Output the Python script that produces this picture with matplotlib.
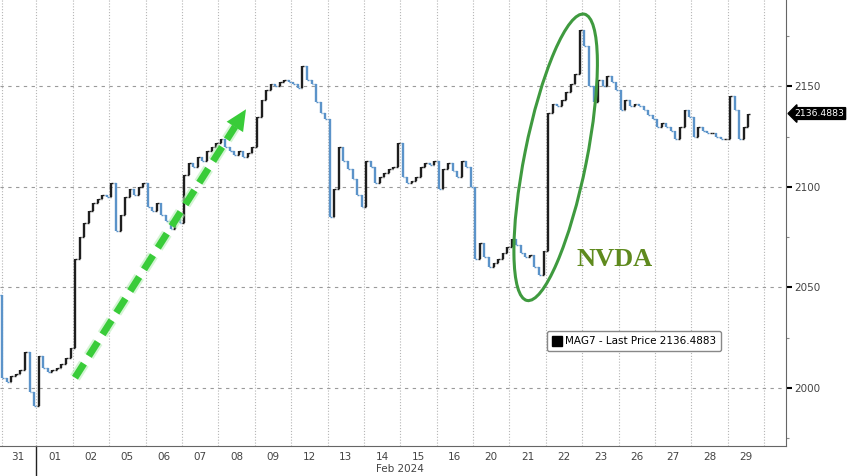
import numpy as np
import matplotlib.pyplot as plt
import matplotlib.patheffects as pe
from matplotlib.patches import Ellipse
from matplotlib.lines import Line2D
from matplotlib.transforms import IdentityTransform, blended_transform_factory

day_labels = ["31", "01", "02", "05", "06", "07", "08", "09", "12", "13", "14",
              "15", "16", "20", "21", "22", "23", "26", "27", "28", "29"]

first_open = 2046.0
# intraday closes, 8 bars per session (last session still open)
closes = [
    [2005, 2003, 2006, 2007, 2009, 2018, 1998, 1991],   # 31
    [2016, 2010, 2008, 2009, 2010, 2012, 2015, 2020],   # 01
    [2064, 2075, 2082, 2088, 2092, 2094, 2096, 2095],   # 02
    [2102, 2078, 2086, 2095, 2099, 2096, 2100, 2102],   # 05
    [2090, 2088, 2092, 2086, 2083, 2079, 2084, 2082],   # 06
    [2106, 2112, 2110, 2115, 2113, 2118, 2120, 2122],   # 07
    [2124, 2120, 2118, 2116, 2118, 2115, 2117, 2120],   # 08
    [2135, 2143, 2148, 2151, 2150, 2152, 2153, 2152],   # 09
    [2151, 2149, 2160, 2153, 2151, 2142, 2137, 2134],   # 12
    [2085, 2099, 2120, 2113, 2109, 2104, 2096, 2090],   # 13
    [2113, 2110, 2102, 2105, 2107, 2109, 2110, 2122],   # 14
    [2105, 2102, 2103, 2105, 2110, 2112, 2111, 2113],   # 15
    [2099, 2109, 2112, 2108, 2105, 2113, 2110, 2100],   # 16
    [2064, 2072, 2065, 2060, 2062, 2064, 2067, 2070],   # 20
    [2074, 2071, 2067, 2065, 2066, 2060, 2056, 2068],   # 21
    [2137, 2141, 2140, 2143, 2147, 2151, 2156, 2178],   # 22
    [2170, 2150, 2142, 2153, 2150, 2155, 2152, 2148],   # 23
    [2138, 2143, 2140, 2141, 2140, 2138, 2136, 2134],   # 26
    [2130, 2132, 2130, 2128, 2124, 2130, 2138, 2135],   # 27
    [2125, 2130, 2128, 2127, 2127, 2125, 2124, 2124],   # 28
    [2145, 2138, 2124, 2130, 2136.4883],                # 29
]
last_price = 2136.4883
bars_per_day = 8

# annotation anchors (day units, price)
arrow_start = (2.06, 2005)
arrow_tip = (6.76, 2138.6)
arrow_neck = (6.46, 2130)
ellipse_center = (15.27, 2114.7)

# ------------------------------------------------ #
xs, cl = [], []
for d, day in enumerate(closes):
    for i, c in enumerate(day):
        xs.append(d + (i + 0.5) / bars_per_day)
        cl.append(c)
xs = np.array(xs)
cl = np.array(cl, dtype=float)
op = np.concatenate([[first_open], cl[:-1]])
up = cl >= op
cols = np.where(up, "#1e1e1e", "#5b93c9")

fig = plt.figure(figsize=(8.48, 4.76), dpi=100)
ax = fig.add_axes([0, 30 / 476, 786 / 848, 446 / 476])
ax.set_xlim(0, 21.6)
ax.set_ylim(1971, 2193)

# grid
for g in range(0, 22):
    ax.axvline(g if g else 0.05, color="#b5b5b5", lw=0.8, ls=(0, (1, 1.6)), zorder=0)
for g in [2000, 2050, 2100, 2150]:
    ax.axhline(g, color="#9a9a9a", lw=0.8, ls=(0, (3, 4)), zorder=0)

# bars
ax.vlines(xs, np.minimum(op, cl), np.maximum(op, cl), colors=cols, lw=1.7, zorder=3)
w = 0.05
ax.hlines(op, xs - w, xs, colors=cols, lw=1.0, zorder=3)
ax.hlines(cl, xs, xs + w, colors=cols, lw=1.0, zorder=3)

# axes styling
for s in ["left", "top"]:
    ax.spines[s].set_visible(False)
ax.spines["right"].set_color("#666666")
ax.spines["bottom"].set_color("#666666")
ax.yaxis.tick_right()
ax.set_yticks([2000, 2050, 2100, 2150])
ax.set_yticks([1975, 2025, 2075, 2125, 2175], minor=True)
ax.tick_params(axis="y", which="major", length=4, width=1.5, color="black",
               labelsize=7.5, labelcolor="#444444", pad=2)
ax.tick_params(axis="y", which="minor", length=2, width=0.8, color="#888888")
ax.set_xticks(np.arange(0, 22))
ax.set_xticklabels([])
ax.set_xticks(np.arange(len(day_labels)) + 0.5, minor=True)
ax.set_xticklabels(day_labels, minor=True)
ax.tick_params(axis="x", which="both", length=0, labelsize=7.5,
               labelcolor="#444444", pad=4)

bt = ax.get_xaxis_transform()
ax.plot([1, 1], [0, -0.07], color="#222222", lw=1, transform=bt, clip_on=False)
ax.text(11, -0.052, "Feb 2024", transform=bt, ha="center", va="center",
        fontsize=7.5, color="#444444")

# last price tag
yt = blended_transform_factory(ax.transAxes, ax.transData)
ax.annotate(f"{last_price:.4f}", xy=(1, last_price), xycoords=yt,
            xytext=(6, 0), textcoords="offset points", ha="left", va="center",
            color="white", fontsize=6.7,
            bbox=dict(boxstyle="larrow,pad=0.15", fc="black", ec="black"))

# legend
h = [Line2D([], [], marker="s", color="black", ls="none", markersize=7)]
ax.legend(h, [f"MAG7 - Last Price {last_price:.4f}"], loc="center",
          bbox_to_anchor=(0.807, 0.235), fontsize=7.5, frameon=True,
          fancybox=True, edgecolor="#888888", framealpha=1,
          handlelength=0.8, handletextpad=0.4, borderpad=0.5)

# green dashed arrow
green = "#39cc39"
glow = [pe.Stroke(linewidth=8, foreground="#b8eeb8", alpha=0.6), pe.Normal()]
ax.plot([arrow_start[0], arrow_neck[0]], [arrow_start[1], arrow_neck[1]],
        color=green, lw=5, dashes=(2.4, 1.3), solid_capstyle="butt",
        path_effects=glow, zorder=5)
ax.annotate("", xy=arrow_tip, xytext=arrow_neck,
            arrowprops=dict(arrowstyle="-|>,head_length=0.75,head_width=0.35",
                            color=green, lw=0, mutation_scale=20,
                            shrinkA=0, shrinkB=0), zorder=5)

# NVDA ellipse
cx, cy = ax.transData.transform(ellipse_center)
ax.add_patch(Ellipse((cx, cy), 62, 292, angle=-11.3, fill=False,
                     ec="#3f9a3f", lw=2.2, transform=IdentityTransform(),
                     zorder=6))
ax.text(16.9, 2064, "NVDA", fontsize=19, family="Liberation Serif",
        fontweight="bold", color="#5f8a1e", ha="center", va="center", zorder=6)

fig.savefig("out.png", dpi=100)
